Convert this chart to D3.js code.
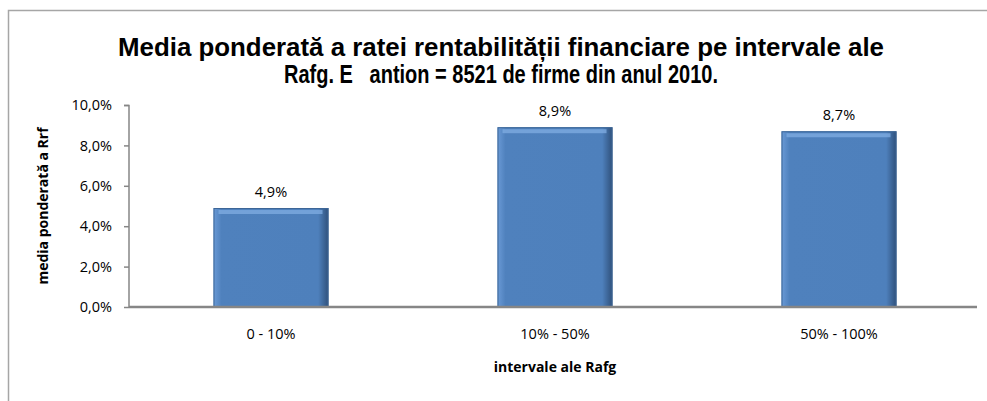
<!DOCTYPE html>
<html>
<head>
<meta charset="utf-8">
<script src="https://cdn.jsdelivr.net/npm/d3@7"></script>
<style>
  body { margin: 0; background: #fff; }
  svg { display: block; }
</style>
</head>
<body>
<svg width="987" height="401"></svg>
<script>
// data
var categories = ['0 - 10%', '10% - 50%', '50% - 100%'];
var values = [4.9, 8.9, 8.7];
var yTicks = [0, 2, 4, 6, 8, 10];
var titleLines = ['Media ponderată a ratei rentabilității financiare pe intervale ale',
                  'Rafg. E   antion = 8521 de firme din anul 2010.'];
var yTitle = 'media ponderată a Rrf';
var xTitle = 'intervale ale Rafg';

var fmt = function (v) { return v.toFixed(1).replace('.', ',') + '%'; };
var labelFont = 'Open Sans, Liberation Sans, sans-serif';

var svg = d3.select('svg');
var margin = { top: 105, left: 129, right: 6, bottom: 94 };
var plotWidth = 987 - margin.left - margin.right;
var plotHeight = 401 - margin.top - margin.bottom;

// chart frame (only top and left edges show)
svg.append('path')
    .attr('d', 'M8.5,401 V10.5 H987')
    .attr('fill', 'none')
    .attr('stroke', '#a6a6a6')
    .attr('stroke-width', 1.5);

// gradient for the bevelled bars
var defs = svg.append('defs');
var g1 = defs.append('linearGradient').attr('id', 'barH').attr('x1', 0).attr('x2', 1).attr('y1', 0).attr('y2', 0);
g1.append('stop').attr('offset', '0').attr('stop-color', '#6a9ad6');
g1.append('stop').attr('offset', '0.07').attr('stop-color', '#4f81bd');
g1.append('stop').attr('offset', '0.91').attr('stop-color', '#4e80bc');
g1.append('stop').attr('offset', '1').attr('stop-color', '#2f507a');

var title = svg.append('g').attr('id', 'title');
title.selectAll('text')
    .data(titleLines)
    .enter()
    .append('text')
    .attr('x', 501)
    .attr('y', function (d, i) { return 56 + i * 27; })
    .attr('text-anchor', 'middle')
    .attr('textLength', function (d, i) { return i === 0 ? 766 : 434; })
    .attr('lengthAdjust', 'spacingAndGlyphs')
    .style('white-space', 'pre')
    .attr('font-family', 'Liberation Sans Narrow, Liberation Sans, Arial, sans-serif')
    .attr('font-weight', 'bold')
    .attr('font-size', 25)
    .attr('fill', '#000')
    .text(function (d) { return d; });

var plot = svg.append('g')
    .attr('id', 'plot')
    .attr('transform', 'translate(' + margin.left + ',' + margin.top + ')');

var xScale = d3.scaleBand()
    .domain(categories)
    .range([0, plotWidth])
    .paddingInner(0.595)
    .paddingOuter(0.2975);

var yScale = d3.scaleLinear()
    .domain([0, 10])
    .range([plotHeight, 0]);

var yAxis = d3.axisLeft(yScale)
    .tickValues(yTicks)
    .tickSize(5)
    .tickPadding(12)
    .tickFormat(fmt);
var yGroup = plot.append('g').attr('id', 'y-axis').call(yAxis);
yGroup.select('.domain').attr('stroke', '#868686').attr('stroke-width', 1.5)
    .attr('d', 'M-5,0.5H0V' + plotHeight);
yGroup.selectAll('line').attr('stroke', '#868686').attr('stroke-width', 1.5);
yGroup.selectAll('text')
    .attr('font-family', labelFont)
    .attr('font-size', 14.5)
    .attr('fill', '#000');

var bars = plot.append('g').attr('id', 'bars');
bars.selectAll('rect.bar')
    .data(values)
    .enter()
    .append('rect')
    .attr('class', 'bar')
    .attr('x', function (d, i) { return xScale(categories[i]); })
    .attr('y', function (d) { return yScale(d); })
    .attr('width', xScale.bandwidth())
    .attr('height', function (d) { return plotHeight - yScale(d); })
    .attr('fill', 'url(#barH)');

// bevel highlight along the top edge
bars.selectAll('rect.hl')
    .data(values)
    .enter()
    .append('rect')
    .attr('class', 'hl')
    .attr('x', function (d, i) { return xScale(categories[i]) + 5; })
    .attr('y', function (d) { return yScale(d) + 2; })
    .attr('width', xScale.bandwidth() - 11)
    .attr('height', 4)
    .attr('fill', '#80aee3')
    .attr('opacity', 0.75);

bars.selectAll('rect.edge')
    .data(values)
    .enter()
    .append('rect')
    .attr('class', 'edge')
    .attr('x', function (d, i) { return xScale(categories[i]) + 0.5; })
    .attr('y', function (d) { return yScale(d) + 0.5; })
    .attr('width', xScale.bandwidth() - 1)
    .attr('height', function (d) { return plotHeight - yScale(d) - 1; })
    .attr('fill', 'none')
    .attr('stroke', '#3d6697')
    .attr('stroke-width', 1);

plot.append('g').selectAll('text.val')
    .data(values)
    .enter()
    .append('text')
    .attr('class', 'val')
    .attr('x', function (d, i) { return xScale(categories[i]) + xScale.bandwidth() / 2; })
    .attr('y', function (d) { return yScale(d) - 11; })
    .attr('text-anchor', 'middle')
    .attr('font-family', labelFont)
    .attr('font-size', 14.5)
    .attr('fill', '#000')
    .text(fmt);

var xAxis = d3.axisBottom(xScale).tickSize(0).tickPadding(22);
var xGroup = plot.append('g').attr('id', 'x-axis')
    .attr('transform', 'translate(0,' + plotHeight + ')')
    .call(xAxis);
xGroup.select('.domain').attr('stroke', '#868686').attr('stroke-width', 2.5)
    .attr('d', 'M0,0H' + (plotWidth - 4));
xGroup.selectAll('text')
    .attr('font-family', labelFont)
    .attr('font-size', 14.5)
    .attr('fill', '#000');

plot.append('text')
    .attr('class', 'axis-x')
    .attr('x', xScale('10% - 50%') + xScale.bandwidth() / 2)
    .attr('y', plotHeight + 65)
    .attr('text-anchor', 'middle')
    .attr('font-family', labelFont)
    .attr('font-weight', 'bold')
    .attr('font-size', 14)
    .attr('fill', '#000')
    .text(xTitle);

plot.append('text')
    .attr('class', 'axis-y')
    .attr('text-anchor', 'middle')
    .attr('transform', 'translate(-81,' + (plotHeight / 2) + ')rotate(-90)')
    .attr('font-family', labelFont)
    .attr('font-weight', 'bold')
    .attr('font-size', 14)
    .attr('fill', '#000')
    .text(yTitle);
</script>
</body>
</html>
